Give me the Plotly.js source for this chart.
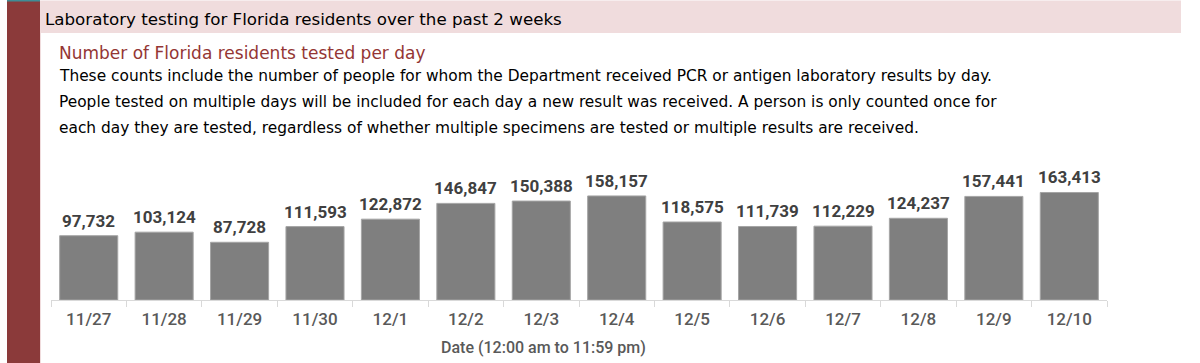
<!DOCTYPE html>
<html>
<head>
<meta charset="utf-8">
<script src="https://cdn.plot.ly/plotly-3.0.1.min.js"></script>
<style>
html,body{margin:0;padding:0;background:#fff;}
#chart{width:1200px;height:363px;}
</style>
</head>
<body>
<div id="chart"></div>
<script>
// ---- data ----
const dates = ["11/27","11/28","11/29","11/30","12/1","12/2","12/3","12/4","12/5","12/6","12/7","12/8","12/9","12/10"];
const testedPerDay = [97732,103124,87728,111593,122872,146847,150388,158157,118575,111739,112229,124237,157441,163413];

const headerTitle = "Laboratory testing for Florida residents over the past 2 weeks";
const subTitle = "Number of Florida residents tested per day";
const descLines = [
  "These counts include the number of people for whom the Department received PCR or antigen laboratory results by day.",
  "People tested on multiple days will be included for each day a new result was received. A person is only counted once for",
  "each day they are tested, regardless of whether multiple specimens are tested or multiple results are received."
];
const xAxisTitle = "Date (12:00 am to 11:59 pm)";

// ---- layout geometry (pixels) ----
const W = 1200, H = 363;
const mL = 51, mR = 93, mT = 170, mB = 63;
const plotW = W - mL - mR, plotH = H - mT - mB;
const px2x = px => (px - mL) / plotW;
const px2y = py => (H - mB - py) / plotH;

const fmt = v => v.toLocaleString("en-US");

const trace = {
  type: "bar",
  x: dates,
  y: testedPerDay,
  marker: {color: "#7f7f7f", line: {color: "#a5a5a5", width: 1}},
  hoverinfo: "none"
};

const textFont = "DejaVu Sans, sans-serif";
const annotations = [];
dates.forEach((d, i) => {
  annotations.push({
    x: d, y: testedPerDay[i], xref: "x", yref: "y",
    text: fmt(testedPerDay[i]), showarrow: false,
    xanchor: "center", yanchor: "bottom", yshift: 3,
    font: {family: "Roboto, sans-serif", size: 17, color: "#404040", weight: "bold"}
  });
});
annotations.push({
  x: px2x(43), y: px2y(18.5), xref: "paper", yref: "paper",
  text: headerTitle, showarrow: false, xanchor: "left", yanchor: "middle",
  font: {family: textFont, size: 16.7, color: "#000000"}
});
annotations.push({
  x: px2x(57), y: px2y(52.5), xref: "paper", yref: "paper",
  text: subTitle, showarrow: false, xanchor: "left", yanchor: "middle",
  font: {family: textFont, size: 17, color: "#943634"}
});
const descY = [76.5, 102, 127.5];
descLines.forEach((t, i) => {
  annotations.push({
    x: px2x(57), y: px2y(descY[i]), xref: "paper", yref: "paper",
    text: t, showarrow: false, xanchor: "left", yanchor: "middle",
    font: {family: textFont, size: 15.4, color: "#000000"}
  });
});
annotations.push({
  x: px2x(543), y: px2y(347), xref: "paper", yref: "paper",
  text: xAxisTitle, showarrow: false, xanchor: "center", yanchor: "middle",
  font: {family: "Roboto, sans-serif", size: 16, color: "#595959", weight: 500}
});

const shapes = [
  {type: "rect", xref: "paper", yref: "paper", layer: "below",
   x0: px2x(7), x1: px2x(40), y0: px2y(0), y1: px2y(H),
   fillcolor: "#8b3a3a", line: {width: 0}},
  {type: "rect", xref: "paper", yref: "paper", layer: "below",
   x0: px2x(7), x1: px2x(40), y0: px2y(0), y1: px2y(1.5),
   fillcolor: "#3f8d96", line: {width: 0}},
  {type: "rect", xref: "paper", yref: "paper", layer: "below",
   x0: px2x(40), x1: px2x(1181), y0: px2y(0.5), y1: px2y(33),
   fillcolor: "#f0dcdd", line: {width: 0}},
  {type: "line", xref: "paper", yref: "paper", layer: "below",
   x0: px2x(40.5), x1: px2x(40.5), y0: px2y(33), y1: px2y(H),
   line: {color: "#f0dcdd", width: 1}}
];

const layout = {
  width: W, height: H,
  margin: {l: mL, r: mR, t: mT, b: mB, pad: 0},
  paper_bgcolor: "#ffffff", plot_bgcolor: "#ffffff",
  showlegend: false,
  bargap: 0.23,
  xaxis: {
    type: "category",
    showline: true, linecolor: "#d9d9d9", linewidth: 1,
    ticks: "outside", tickson: "boundaries", ticklen: 6, tickcolor: "#d9d9d9", tickwidth: 1,
    showgrid: false, zeroline: false,
    tickfont: {family: "Roboto, sans-serif", size: 17, color: "#595959", weight: 500},
    ticklabelstandoff: 4
  },
  yaxis: {
    range: [0, plotH * 1520],
    visible: false, showgrid: false, zeroline: false
  },
  annotations: annotations,
  shapes: shapes
};

Plotly.newPlot("chart", [trace], layout, {displayModeBar: false, staticPlot: true});
</script>
</body>
</html>
